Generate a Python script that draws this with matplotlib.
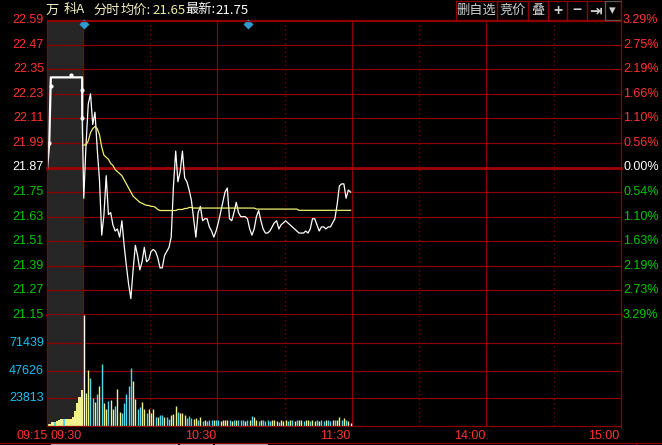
import numpy as np
import matplotlib.pyplot as plt
from matplotlib.lines import Line2D
from matplotlib.patches import Rectangle

# axis labels
price_ticks = [22.59, 22.47, 22.35, 22.23, 22.11, 21.99, 21.87, 21.75, 21.63, 21.51, 21.39, 21.27, 21.15]
pct_labels = ['3.29%', '2.75%', '2.19%', '1.66%', '1.10%', '0.56%', '0.00%',
              '0.54%', '1.10%', '1.63%', '2.19%', '2.73%', '3.29%']
prev_close = 21.87
vol_ticks = [23813, 47626, 71439]
vol_top = 95252
time_labels = ['09:30', '10:30', '11:30', '14:00', '15:00']
time_minutes = [0, 60, 120, 180, 240]
dotted_minutes = [30, 90, 150, 210]

# call auction (09:15-09:30), x in minutes after 09:15
auction_x = [0, 1, 1.7, 15.7, 15.7]
auction_p = [21.86, 21.99, 22.31, 22.31, 22.11]
auction_dot_x = [1, 1.8, 10.7, 15.7, 15.7]
auction_dot_p = [21.99, 22.27, 22.32, 22.25, 22.11]
auction_vol_x = [0.5, 1.5, 2.5, 3.5, 4.5, 5.5, 6.5, 7.5, 8.5, 9.5, 10.5, 11.5, 12.5, 13.5, 14.5, 15.5]
auction_vol = [1700, 2000, 3400, 3600, 4500, 4800, 5700, 6000, 6000, 6200, 6200, 8000,
               13000, 19500, 25000, 31000]
auction_dir = [1, 1, 1, -1, 1, 1, 1, -1, 1, 1, 1, 1, 1, 1, 1, 1]

# one value per trading minute from 09:30
price = [21.72, 21.98, 22.18, 22.23, 22.08, 22.14, 21.96, 21.81, 21.54, 21.64,
         21.83, 21.64, 21.65, 21.59, 21.56, 21.57, 21.53, 21.61, 21.49, 21.39,
         21.30, 21.23, 21.37, 21.49, 21.44, 21.37, 21.41, 21.48, 21.41, 21.42,
         21.46, 21.47, 21.46, 21.43, 21.38, 21.38, 21.44, 21.46, 21.48, 21.53,
         21.78, 21.95, 21.80, 21.85, 21.95, 21.82, 21.80, 21.76, 21.71, 21.62,
         21.53, 21.65, 21.68, 21.61, 21.62, 21.62, 21.58, 21.56, 21.53, 21.56,
         21.60, 21.65, 21.70, 21.75, 21.77, 21.62, 21.61, 21.65, 21.70, 21.65,
         21.63, 21.63, 21.63, 21.62, 21.57, 21.54, 21.57, 21.63, 21.66, 21.61,
         21.57, 21.55, 21.55, 21.56, 21.58, 21.60, 21.61, 21.57, 21.59, 21.60,
         21.61, 21.60, 21.59, 21.58, 21.57, 21.56, 21.55, 21.55, 21.55, 21.56,
         21.55, 21.57, 21.62, 21.62, 21.59, 21.56, 21.58, 21.58, 21.57, 21.58,
         21.58, 21.60, 21.62, 21.69, 21.78, 21.79, 21.79, 21.72, 21.76, 21.75]

avg_price = [21.98, 21.98, 22.00, 22.04, 22.06, 22.07, 22.06, 22.03, 21.97, 21.93,
             21.92, 21.91, 21.89, 21.88, 21.86, 21.85, 21.84, 21.83, 21.81, 21.79,
             21.77, 21.75, 21.73, 21.72, 21.71, 21.70, 21.695, 21.69, 21.685, 21.685,
             21.68, 21.68, 21.675, 21.665, 21.66, 21.66, 21.66, 21.66, 21.66, 21.66,
             21.66, 21.66, 21.665, 21.665, 21.665, 21.67, 21.67, 21.675, 21.675, 21.672,
             21.672, 21.672, 21.672, 21.672, 21.672, 21.672, 21.672, 21.672, 21.672, 21.672,
             21.672, 21.672, 21.672, 21.672, 21.672, 21.672, 21.672, 21.672, 21.672, 21.672,
             21.672, 21.672, 21.672, 21.672, 21.672, 21.672, 21.672, 21.667, 21.667, 21.667,
             21.667, 21.667, 21.667, 21.667, 21.667, 21.667, 21.667, 21.667, 21.667, 21.667,
             21.667, 21.667, 21.667, 21.667, 21.667, 21.667, 21.661, 21.661, 21.661, 21.661,
             21.661, 21.661, 21.661, 21.661, 21.661, 21.661, 21.661, 21.661, 21.661, 21.661,
             21.661, 21.661, 21.661, 21.661, 21.661, 21.661, 21.661, 21.661, 21.661, 21.661]

volume = [95000, 28600, 48000, 41000, 23700, 20900, 27500, 34000, 53000, 20000,
          15000, 21700, 22300, 14300, 17000, 31500, 12300, 11400, 20000, 27500,
          34300, 49500, 38600, 22900, 14300, 16000, 20900, 14300, 10900, 15000,
          10900, 14600, 8000, 7400, 9400, 9400, 8000, 8000, 6300, 9400,
          10300, 17200, 12000, 10900, 11400, 9400, 7100, 8600, 6600, 5700,
          6600, 5100, 7400, 4300, 5100, 4300, 4800, 5500, 4800, 5500,
          5100, 4300, 4800, 5100, 4800, 5500, 4300, 5100, 4800, 5100,
          4800, 5500, 4300, 5100, 4800, 8600, 7400, 5500, 4300, 5100,
          4800, 4300, 4800, 4300, 5100, 4800, 4300, 3800, 4800, 4300,
          4800, 4300, 5100, 4800, 4300, 5100, 4800, 4800, 4300, 4800,
          5100, 4300, 4800, 4300, 5100, 4300, 4800, 4300, 4800, 5100,
          4300, 4800, 5100, 5100, 7400, 5500, 6600, 5100, 4300, 2700]
# 1 = buy (yellow), -1 = sell (cyan), 0 = neutral (white)
vol_dir = [0, 1, 1, -1, -1, 1, -1, 1, -1, 1,
           1, -1, 1, 1, -1, 1, 1, -1, -1, -1,
           -1, -1, 1, 1, -1, -1, 1, 1, -1, 1,
           1, 1, -1, 1, -1, -1, 1, -1, -1, 1,
           1, 1, -1, 1, 1, 1, -1, -1, -1, 1,
           1, -1, 1, -1, 1, -1, -1, -1, 1, -1,
           -1, 1, 1, 1, 1, -1, 1, -1, 1, -1,
           -1, -1, 1, -1, 1, -1, 1, 1, -1, 1,
           -1, -1, -1, -1, 1, 1, 1, -1, 1, 1,
           1, -1, 1, -1, 1, -1, 1, 1, -1, 1,
           1, -1, 1, 1, -1, 1, -1, -1, 1, -1,
           -1, 1, -1, 1, 1, -1, 1, -1, 1, 0]

event_minutes = [0, 73]

RED_GRID = '#8c0000'
RED_TXT = '#ff3232'
GREEN_TXT = '#00c800'
CYAN_TXT = '#1ec0f0'
YELLOW = '#f0f08c'
CYAN = '#50d8f0'
bar_colors = {1: YELLOW, -1: CYAN, 0: 'white'}

W, H = 662, 445
L, R = 47, 621
fig = plt.figure(figsize=(W / 100, H / 100), dpi=100, facecolor='black')


def box(l, t, r, b):
    return [l / W, 1 - b / H, (r - l) / W, (b - t) / H]


def fline(xs, ys, **kw):
    fig.add_artist(Line2D([x / W for x in xs], [1 - y / H for y in ys], **kw))


ax = fig.add_axes(box(L, 20, R, 315))
axv = fig.add_axes(box(L, 315, R, 426))
for a in (ax, axv):
    a.set_facecolor('black')
    a.set_xlim(0, 256)
    a.set_xticks([])
    a.set_yticks([])
    for s in a.spines.values():
        s.set_visible(False)
    a.axvspan(0, 16, color='#262626', lw=0, zorder=0)
    for m in time_minutes[:-1]:
        a.axvline(16 + m, color=RED_GRID, lw=0.9, zorder=1)
    for m in dotted_minutes:
        a.axvline(16 + m, color=RED_GRID, lw=0.9, ls=(0, (1, 2.5)), zorder=1)
ax.set_ylim(21.15, 22.59)
axv.set_ylim(0, vol_top)

# horizontal grid
for p in price_ticks:
    thick = p == prev_close or p == price_ticks[-1]
    ax.axhline(p, color=RED_GRID if not thick else '#a00000', lw=2.0 if thick else 0.9,
               zorder=1, clip_on=False)
for v in vol_ticks:
    axv.axhline(v, color=RED_GRID, lw=0.9, zorder=1)

# price lines
trade_x = 16.4 + np.arange(len(price))
ax.plot(auction_x, auction_p, color='white', lw=1.6, zorder=3)
ax.scatter(auction_dot_x, auction_dot_p, s=9, color='white', zorder=4, lw=0)
ax.plot(np.r_[auction_x[-1], trade_x], np.r_[auction_p[-1], price], color='white', lw=0.9, zorder=3)
ax.plot(trade_x, avg_price, color='#f0f070', lw=0.9, zorder=3)

ev_x = [16.6 + m for m in event_minutes]
ax.scatter(ev_x, [0.985] * len(ev_x), marker='D', s=26, color='#2f9bd0', lw=0,
           transform=ax.get_xaxis_transform(), zorder=5, clip_on=False)

# volume
axv.bar(auction_vol_x, auction_vol, width=1.0, lw=0,
        color=[bar_colors[d] for d in auction_dir], zorder=2)
axv.vlines(trade_x, 0, volume, colors=[bar_colors[d] for d in vol_dir], lw=1.0, zorder=2)

# axis labels
num_font = dict(family='Liberation Sans', fontsize=9.0)
for p, lab in zip(price_ticks, pct_labels):
    c = RED_TXT if p > prev_close else ('white' if p == prev_close else GREEN_TXT)
    ax.text(-3 / 574, p, f'{p:.2f}', color=c, ha='right', va='center',
            transform=ax.get_yaxis_transform(), **num_font)
    ax.text(1 + 2 / 574, p, lab, color=c, ha='left', va='center',
            transform=ax.get_yaxis_transform(), **num_font)
for v in vol_ticks:
    axv.text(-3 / 574, v, str(v), color=CYAN_TXT, ha='right', va='center',
             transform=axv.get_yaxis_transform(), **num_font)

axv.text(0.5, -0.09, '09:15', color=RED_TXT, ha='right', va='center',
         transform=axv.get_xaxis_transform(), clip_on=False, **num_font)
for m, lab in zip(time_minutes, time_labels):
    axv.text(16 + m - 0.6, -0.09, lab, color=RED_TXT, ha='right', va='center',
             transform=axv.get_xaxis_transform(), clip_on=False, **num_font)

# frame lines
fline([L, L], [20, 426], color=RED_GRID, lw=0.9)
fline([R - 0.5, R - 0.5], [0, 428], color=RED_GRID, lw=0.9)
fline([L, R], [20.5, 20.5], color=RED_GRID, lw=0.9)
fline([L, R], [426, 426], color=RED_GRID, lw=0.9)
fline([0, W], [443, 443], color=RED_GRID, lw=0.9)
fline([636, 636], [443, 445], color=RED_GRID, lw=0.9)
for x0, x1 in [(51, 178), (180, 213), (215, 268)]:
    fig.add_artist(Rectangle((x0 / W, 0), (x1 - x0) / W, 1.6 / H, color='#b4b4b4', lw=0))

# title, placed piece by piece
cjk = ['Noto Sans CJK SC', 'DejaVu Sans']
title_y = 1 - 10 / H
title_parts = [('万', 46, '#f2eec0'), ('科A', 64, '#f2eec0'), ('分时', 93, '#f2eec0'),
               ('均价:', 121, '#f2eec0'), ('21.65', 152, '#eeee98'),
               ('最新:', 185, 'white'), ('21.75', 215, 'white')]
for txt, px, col in title_parts:
    fig.text(px / W, title_y, txt, color=col, family=cjk, fontsize=9.5, va='center')

# toolbar buttons
edges = [456, 496.7, 528.3, 548.3, 566.7, 586.7, 605, 620.5]
btn_labels = ['删自选', '竞价', '叠', '+', '−', '⇥', '▾']
for i, lab in enumerate(btn_labels):
    x0, x1 = edges[i], edges[i + 1]
    ec = '#5a5a5a' if lab == '▾' else RED_GRID
    fig.add_artist(Rectangle((x0 / W, 1 - 20 / H), (x1 - x0) / W, 19.5 / H,
                             fill=False, ec=ec, lw=0.9))
    bold = lab in ['+', '−', '⇥']
    fig.text((x0 + x1) / 2 / W, 1 - 10.5 / H, lab, color='#d0d0d0', ha='center', va='center',
             family=cjk, fontsize=11 if bold else 9.5, fontweight='bold' if bold else 'normal')

fig.savefig('out.png', dpi=100, facecolor='black')
